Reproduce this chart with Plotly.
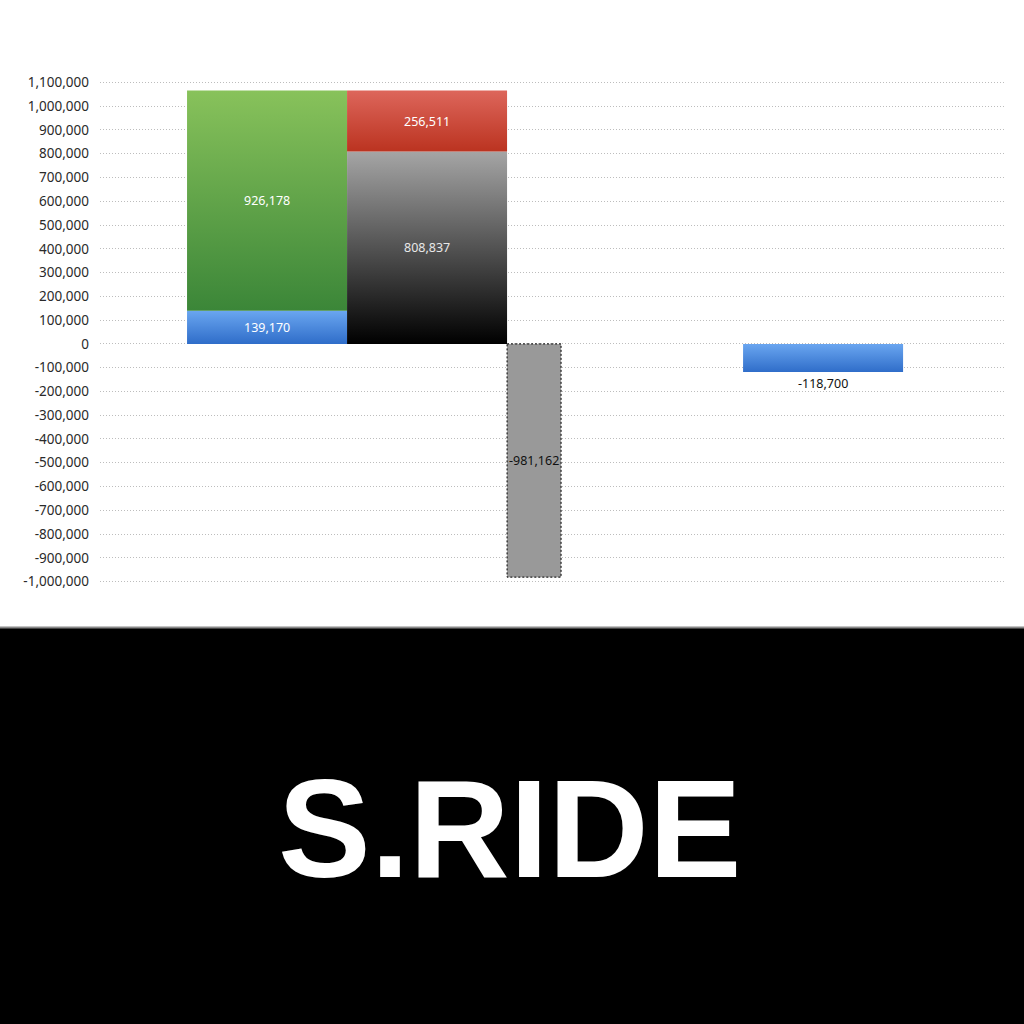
import plotly.graph_objects as go

# === dados ===
bar_names = ["A", "B", "C", "D"]
# segmentos empilhados (de baixo para cima) por barra
seg_bar = ["A", "A", "B", "B", "C", "D"]
seg_values = [139170, 926178, 808837, 256511, -981162, -118700]
seg_labels = ["139,170", "926,178", "808,837", "256,511", "-981,162", "-118,700"]

tick_vals = list(range(-1000000, 1100001, 100000))
tick_text = [f"{v:,}" for v in tick_vals]

# estilo dos segmentos
seg_colors = [
    ("#2f6dc9", "#6aa6f0"),   # azul (baixo, topo)
    ("#3b8638", "#88c25b"),   # verde
    ("#000000", "#a5a5a5"),   # preto/cinza
    ("#bb3320", "#dd665b"),   # vermelho
    ("#999999", "#999999"),   # cinza tracejado
    ("#2f6dc9", "#6aa6f0"),   # azul
]
text_colors = ["white", "white", "#e8e8e8", "white", "#111111", "#111111"]
label_outside = [False, False, False, False, False, True]

# posicao horizontal das barras (unidade = largura de uma barra)
bar_left = {"A": 0.544, "B": 1.544, "C": 2.544, "D": 4.019}
bar_width = {"A": 1.0, "B": 1.0, "C": 0.3375, "D": 1.0}

fig = go.Figure()

stack = {}
for i, (b, v) in enumerate(zip(seg_bar, seg_values)):
    base = stack.get(b, 0)
    top = base + v
    stack[b] = top
    x0 = bar_left[b]
    x1 = x0 + bar_width[b]
    dashed = b == "C"
    fig.add_trace(go.Scatter(
        x=[x0, x1, x1, x0, x0],
        y=[base, base, top, top, base],
        mode="lines",
        fill="toself",
        fillgradient=dict(type="vertical",
                          colorscale=[[0, seg_colors[i][0]], [1, seg_colors[i][1]]]),
        line=dict(color="black" if dashed else "rgba(0,0,0,0)",
                  width=1, dash="2px,2px" if dashed else "solid"),
        hoverinfo="skip",
        showlegend=False,
    ))
    # rotulo do valor
    fig.add_annotation(
        x=(x0 + x1) / 2,
        y=top if label_outside[i] else (base + top) / 2,
        text=seg_labels[i],
        showarrow=False,
        yanchor="top" if label_outside[i] else "middle",
        yshift=-1 if label_outside[i] else 0,
        font=dict(family="Noto Sans", size=12.5, color=text_colors[i]),
    )

fig.update_xaxes(range=[0, 5.656], visible=False, fixedrange=True)

fig.update_yaxes(
    range=[-1010000, 1110000],
    tickvals=tick_vals,
    ticktext=tick_text,
    tickfont=dict(family="Noto Sans", size=13.5, color="#2a2a2a"),
    showgrid=True,
    gridcolor="#bdbdbd",
    griddash="1px,2px",
    gridwidth=1,
    zeroline=False,
    showline=False,
    ticks="",
    ticklabelstandoff=10,
)

# faixa preta com o logo
fig.add_shape(type="rect", xref="paper", yref="paper",
              x0=-0.2, x1=1.2, y0=-0.95, y1=-0.0865,
              fillcolor="black", line=dict(color="#888888", width=2), layer="below")
fig.add_annotation(
    text="<b>S.RIDE</b>", xref="paper", yref="paper",
    x=0.452, y=-0.642, showarrow=False,
    font=dict(family="Liberation Sans", size=139, color="white"),
)

fig.update_layout(
    width=1024,
    height=1024,
    margin=dict(l=100, r=19, t=80, b=440),
    plot_bgcolor="white",
    paper_bgcolor="white",
)

# tira a margem padrao do body da pagina
fig.write_html("out.html", config={"displayModeBar": False},
               post_script="document.body.style.margin='0';")
